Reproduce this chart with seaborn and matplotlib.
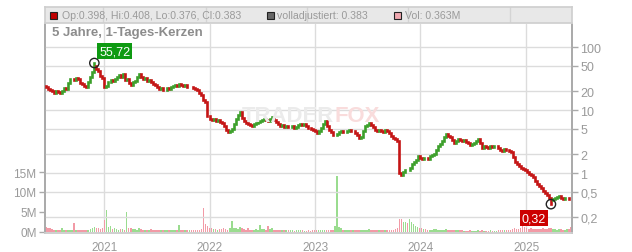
import matplotlib
matplotlib.use("Agg")
import matplotlib.pyplot as plt
from matplotlib.patches import Rectangle
import seaborn as sns
import numpy as np
import pandas as pd

# ---------------- data (weekly candles) ----------------
start_date = "2020-06-12"
first_open = 24.0
closes = [23.2, 21.6, 20.8, 19.9, 18.6, 19.8, 19.3, 18.9, 20.0, 22.3,
          21.5, 26.5, 31.0, 31.5, 29.9, 32.5, 31.0, 27.0, 25.9, 24.4,
          23.2, 27.5, 33.4, 40.5, 49.9, 44.0, 41.6, 35.0, 32.2, 23.0,
          24.0, 28.2, 29.9, 28.6, 31.0, 33.8, 35.9, 34.0, 37.3, 29.5,
          31.0, 27.0, 24.9, 27.5, 28.9, 33.6, 37.3, 33.0, 31.0, 31.8,
          28.9, 29.6, 27.8, 25.8, 24.9, 23.6, 21.5, 22.3, 20.8, 21.0,
          22.4, 21.9, 23.2, 24.2, 24.9, 24.1, 25.9, 25.2, 24.0, 24.6,
          23.2, 23.6, 22.8, 22.0, 21.5, 20.4, 18.6, 17.6, 14.4, 13.2,
          8.03, 7.2, 6.94, 7.3, 6.69, 6.9, 6.45, 6.2, 5.57, 4.9,
          4.47, 4.7, 4.99, 6.1, 7.20, 8.3, 9.29, 7.6, 6.69, 6.2,
          5.99, 5.8, 5.57, 6.0, 6.22, 6.5, 6.69, 6.9, 7.20, 7.0,
          6.69, 7.1, 7.74, 7.0, 6.45, 5.9, 5.57, 5.7, 5.37, 5.5,
          5.30, 5.45, 5.57, 5.2, 5.37, 5.7, 5.99, 5.7, 5.90, 5.5,
          5.18, 5.0, 4.81, 4.6, 4.31, 4.7, 5.18, 5.9, 6.69, 5.6,
          4.81, 4.4, 4.01, 4.05, 4.16, 4.4, 4.64, 4.5, 4.55, 4.7,
          4.81, 4.6, 4.64, 4.3, 4.01, 3.6, 3.73, 4.6, 5.57, 5.8,
          6.22, 5.7, 5.37, 4.9, 4.64, 4.8, 4.70, 4.55, 4.81, 4.6,
          4.31, 3.9, 3.59, 3.45, 3.22, 1.00, 0.93, 1.03, 1.12, 1.10,
          1.20, 1.38, 1.50, 1.62, 1.86, 1.74, 1.67, 1.76, 1.73, 1.68,
          1.86, 1.95, 2.00, 2.3, 2.68, 2.9, 3.22, 3.7, 4.16, 3.9,
          3.73, 3.3, 2.99, 3.25, 3.47, 3.3, 3.22, 3.35, 3.10, 2.95,
          2.78, 2.9, 2.99, 3.2, 3.47, 2.95, 2.49, 2.65, 2.59, 2.5,
          2.68, 2.6, 2.64, 2.7, 2.49, 2.35, 2.24, 2.4, 2.32, 2.2,
          2.15, 1.8, 1.50, 1.40, 1.29, 1.22, 1.16, 1.10, 1.04, 0.98,
          0.93, 0.85, 0.746, 0.68, 0.622, 0.57, 0.518, 0.48, 0.447, 0.40,
          0.373, 0.385, 0.401, 0.42, 0.431, 0.405, 0.387, 0.395, 0.401, 0.39,
          0.383]
volumes_m = [1.2, 1.0, 0.9, 0.7, 0.6, 0.5, 0.5, 0.6, 0.9, 0.5,
             0.4, 0.5, 0.6, 0.5, 2.2, 0.6, 0.6, 0.5, 0.4, 0.4,
             0.5, 0.6, 0.7, 0.9, 1.3, 1.0, 0.9, 0.8, 1.1, 3.0,
             5.6, 1.2, 1.4, 0.8, 0.9, 0.7, 0.6, 0.7, 0.8, 0.6,
             5.1, 0.9, 1.0, 0.7, 0.8, 0.6, 0.9, 0.7, 0.6, 0.5,
             0.5, 0.4, 0.7, 0.5, 0.6, 0.5, 0.4, 0.4, 0.5, 0.4,
             0.6, 0.5, 0.5, 0.4, 0.4, 0.5, 1.7, 0.5, 0.5, 0.4,
             0.4, 0.4, 0.5, 0.4, 0.4, 0.5, 0.6, 0.8, 6.0, 2.0,
             1.6, 1.0, 0.9, 0.8, 0.7, 0.6, 0.8, 0.7, 0.9, 0.8,
             0.6, 1.0, 2.8, 0.9, 1.0, 0.8, 1.2, 0.9, 0.7, 0.6,
             0.9, 0.6, 0.6, 0.5, 0.8, 0.6, 1.7, 0.7, 0.7, 0.6,
             1.6, 0.7, 0.9, 0.6, 0.6, 0.5, 0.5, 0.4, 0.5, 0.4,
             0.5, 0.4, 0.4, 0.3, 0.4, 0.4, 0.5, 0.4, 0.3, 0.3,
             0.4, 0.3, 0.5, 0.4, 0.4, 0.4, 0.5, 0.4, 0.6, 0.5,
             0.4, 0.4, 0.5, 1.5, 14.0, 1.2, 0.9, 0.6, 0.6, 0.5,
             0.5, 0.4, 0.4, 0.4, 0.5, 0.4, 0.4, 0.5, 0.6, 0.5,
             0.7, 0.5, 0.5, 0.4, 0.4, 0.4, 0.5, 0.4, 0.4, 0.4,
             0.5, 0.5, 0.6, 0.7, 0.9, 3.2, 3.2, 2.5, 2.5, 2.2,
             3.2, 2.4, 2.0, 1.5, 1.2, 1.0, 0.9, 0.8, 0.7, 0.6,
             0.6, 0.6, 0.8, 0.7, 0.6, 0.5, 0.5, 0.6, 0.7, 0.5,
             0.5, 0.4, 0.4, 0.4, 0.5, 0.4, 0.4, 0.3, 0.3, 0.3,
             0.4, 0.3, 0.3, 0.3, 0.4, 0.3, 0.4, 0.3, 0.3, 0.3,
             0.4, 0.3, 0.3, 0.3, 0.4, 0.4, 0.5, 0.4, 0.4, 0.5,
             0.6, 0.7, 0.9, 0.8, 0.7, 1.0, 3.0, 1.2, 1.0, 0.8,
             0.9, 0.7, 0.8, 0.7, 0.7, 0.8, 0.9, 0.7, 0.8, 0.9,
             1.0, 0.8, 0.7, 0.6, 0.8, 0.7, 0.6, 0.6, 0.7, 0.8,
             1.2]
peak_index, peak_value, peak_label = 24, 55.72, "55,72"
low_index, low_value, low_label = 250, 0.32, "0,32"
price_ticks = [0.2, 0.5, 1, 2, 5, 10, 20, 50, 100]
price_tick_labels = ["0,2", "0,5", "1", "2", "5", "10", "20", "50", "100"]
vol_ticks = [0, 5, 10, 15]
vol_tick_labels = ["0M", "5M", "10M", "15M"]
years = [2021, 2022, 2023, 2024, 2025]
title_text = "5 Jahre, 1-Tages-Kerzen"
legend_texts = ["Op:0.398, Hi:0.408, Lo:0.376, Cl:0.383",
                "volladjustiert: 0.383", "Vol: 0.363M"]

# ---------------- frame ----------------
dates = pd.date_range(start_date, periods=len(closes), freq="7D")
opens = [first_open] + closes[:-1]
df = pd.DataFrame({"date": dates, "open": opens, "close": closes, "volume": volumes_m})
df["up"] = df["close"] >= df["open"]
df["lo"] = df[["open", "close"]].min(axis=1)
df["hi"] = df[["open", "close"]].max(axis=1)
df.loc[peak_index, "hi"] = peak_value
df.loc[low_index, "lo"] = low_value

sns.set_theme(style="white")
plt.rcParams["font.family"] = ["Liberation Sans", "DejaVu Sans"]

W, H = 632, 253
fig = plt.figure(figsize=(W / 100, H / 100), dpi=100)
fig.patch.set_facecolor("white")

L, R, T, B = 45, 572, 25, 234
axv = fig.add_axes([L / W, 1 - B / H, (R - L) / W, (B - T) / H])
ax = axv.twinx()

grey_txt = "#9a9a9a"
grid_c = "#dcdcdc"
x0 = dates[0] - pd.Timedelta(days=3)
x1 = dates[-1] + pd.Timedelta(days=3)

# volume bars
vol_colors = np.where(df["up"], "#9adc8f", "#f29aa6")
axv.bar(df["date"], df["volume"], width=5.5, color=vol_colors, linewidth=0, zorder=2)
axv.set_ylim(-0.25, 52)
axv.set_yticks(vol_ticks)
axv.set_yticklabels(vol_tick_labels)
axv.yaxis.tick_left()
axv.set_xlim(x0, x1)
year_dates = [pd.Timestamp(f"{y}-01-01") for y in years]
axv.set_xticks(year_dates)
axv.set_xticklabels([str(y) for y in years])
axv.tick_params(axis="both", colors="#aaaaaa", labelcolor=grey_txt, labelsize=8.5,
                length=4, width=1, direction="out", pad=2)
for yd in year_dates:
    axv.axvline(yd, color=grid_c, lw=1, zorder=0)

# price candles
ax.set_yscale("log")
ax.set_ylim(0.1116, 231.8)
ax.set_xlim(x0, x1)
for t in price_ticks:
    ax.axhline(t, color=grid_c, lw=1, zorder=0)
lc = ax.vlines(df["date"], df["lo"], df["hi"],
               colors=np.where(df["up"], "#3c9f2a", "#c41414"), linewidth=1.9, zorder=3)
lc.set_capstyle("projecting")
ax.set_yticks(price_ticks)
ax.set_yticklabels(price_tick_labels)
ax.yaxis.set_minor_locator(matplotlib.ticker.NullLocator())
ax.yaxis.tick_right()
ax.tick_params(axis="y", colors="#aaaaaa", labelcolor=grey_txt, labelsize=9,
               length=4, width=1, direction="out", pad=2)
ax.patch.set_alpha(0)

for a in (ax, axv):
    a.spines["top"].set_visible(False)
    a.spines["left"].set_color("#aaaaaa")
    a.spines["right"].set_color("#aaaaaa")
    a.spines["bottom"].set_color("#d0d0d0")
    a.grid(False)

# extreme markers
marks = pd.DataFrame({"date": [dates[peak_index], dates[low_index]],
                      "price": [peak_value, low_value]})
sns.scatterplot(data=marks, x="date", y="price", ax=ax, s=45, facecolor="none",
                edgecolor="#222222", linewidth=1.0, zorder=5, legend=False)
ax.set_xlabel(""); ax.set_ylabel("")
axv.set_xlabel(""); axv.set_ylabel("")
ax.annotate(peak_label, xy=(dates[peak_index], peak_value), xytext=(5, 6),
            textcoords="offset pixels", ha="left", va="bottom", color="white",
            fontsize=9, bbox=dict(boxstyle="square,pad=0.15", fc="#0e9a12", ec="none"),
            zorder=6)
ax.annotate(low_label, xy=(dates[low_index], low_value), xytext=(-5, -8),
            textcoords="offset pixels", ha="right", va="top", color="white",
            fontsize=9, bbox=dict(boxstyle="square,pad=0.15", fc="#cc0000", ec="none"),
            zorder=6)

# watermark (TRADER + FOX, contiguous)
fig.canvas.draw()
rend = fig.canvas.get_renderer()
wm1 = fig.text(242 / W, 1 - 116 / H, "TRADER", color="#ebebeb", fontsize=15,
               fontweight="bold", ha="left", va="center", zorder=1)
w1 = wm1.get_window_extent(rend).width
scale = 92.0 / w1
wm1.set_fontsize(15 * scale)
w1 = wm1.get_window_extent(rend).width
fig.text((242 + w1) / W, 1 - 116 / H, "FOX", color="#f9dcdc", fontsize=15 * scale,
         fontweight="bold", ha="left", va="center", zorder=1)

# title
fig.text(52 / W, 1 - 33 / H, title_text, color="#8c8c8c", fontsize=9.5,
         fontweight="bold", ha="left", va="center")

# legend bar
lg = fig.add_axes([L / W, 1 - 24 / H, (R - L) / W, 16 / H])
lg.set_xlim(0, R - L); lg.set_ylim(16, 0)
lg.set_facecolor("#e8e8e8")
for s in lg.spines.values():
    s.set_color("#cfcfcf")
lg.set_xticks([]); lg.set_yticks([])
for xv in [58, 161, 262, 363, 465]:
    lg.axvline(xv, color="#d4d4d4", lw=1, zorder=0)
sq = [(5, "#c00000"), (222, "#666666"), (349, "#f0a8b0")]
tx = [17, 232, 360]
for (sx, c), txx, s in zip(sq, tx, legend_texts):
    lg.add_patch(Rectangle((sx, 4.5), 7, 7, facecolor=c, edgecolor="#222222", lw=0.8, zorder=2))
    lg.text(txx, 8.3, s, color="#9a9a9a", fontsize=7.6, ha="left", va="center", zorder=2)

fig.savefig("out.png", dpi=100)
